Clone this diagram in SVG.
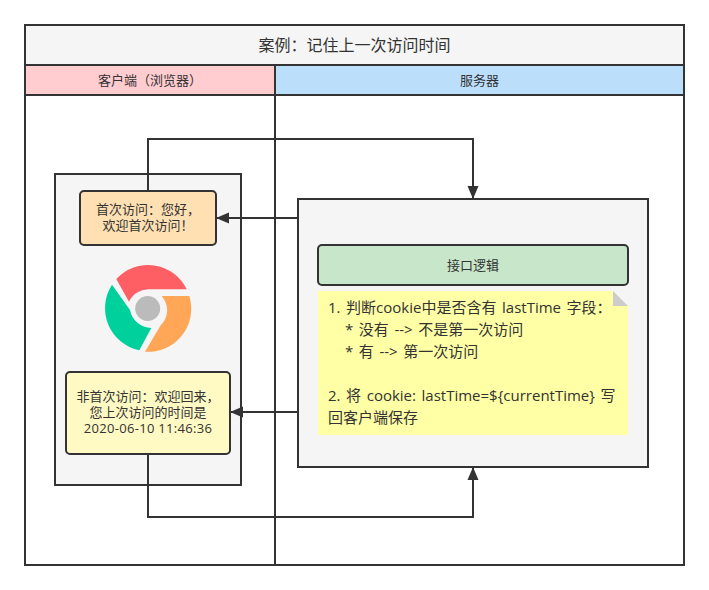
<svg xmlns="http://www.w3.org/2000/svg" width="709" height="590" viewBox="0 0 709 590">
<defs>
<style>
text{font-family:"Open Sans","Noto Sans CJK SC","Noto Sans",sans-serif;fill:#333;font-size:13px;text-anchor:middle;text-spacing-trim:space-all}
.b{stroke:#333;stroke-width:2}
.c{fill:none;stroke:#333;stroke-width:2}
.n{font-size:15px;text-anchor:start;word-spacing:1.7px}
.t{font-size:16px}
.d{letter-spacing:.3px}
</style>
<marker id="a" markerUnits="userSpaceOnUse" markerWidth="14" markerHeight="14" refX="13" refY="6" orient="auto"><path d="M0 .5L13 6L0 11.500Z" fill="#333"/></marker>
</defs>
<rect width="709" height="590" fill="#fff"/>
<g id="frame">
<rect x="25" y="25" width="659" height="540" fill="#fff" class="b"/>
<rect x="25" y="25" width="659" height="40" fill="#f5f5f5" class="b"/>
<text class="t" x="354.500" y="51">案例：记住上一次访问时间</text>
</g>
<g id="lane-client">
<rect x="25" y="65" width="250" height="30" fill="#ffccd0" class="b"/>
<path d="M275 95V565" class="c"/>
<text x="150" y="85">客户端（浏览器）</text>
</g>
<g id="lane-server">
<rect x="275" y="65" width="409" height="30" fill="#bbdefb" class="b"/>
<text x="479.500" y="85">服务器</text>
</g>
<g id="client-box"><rect x="55" y="174" width="186" height="311" fill="#f5f5f5" class="b"/></g>
<g id="server-box"><rect x="298" y="199" width="350" height="268" fill="#f5f5f5" class="b"/></g>
<g id="connectors">
<path d="M148 191V139H473V199" class="c" marker-end="url(#a)"/>
<path d="M298 218H216" class="c" marker-end="url(#a)"/>
<path d="M298 412H230" class="c" marker-end="url(#a)"/>
<path d="M148 454V517H473V467" class="c" marker-end="url(#a)"/>
</g>
<g id="first-visit">
<rect x="80" y="191" width="136" height="54" rx="4" fill="#ffe0b2" class="b"/>
<text x="148" y="214">首次访问：您好，</text>
<text x="148" y="230">欢迎首次访问！</text>
</g>
<g id="chrome">
<path d="M116.300 279A43 43 0 0 1 186.700 289.300H150A22 22 0 0 0 129 301.700Z" fill="#fd5f65"/>
<path d="M112 284.700A43 43 0 0 0 139.300 350.300L151.300 328A22 22 0 0 1 130 310Z" fill="#00d09c"/>
<path d="M161.700 296H189.300A43 43 0 0 1 145 351.700L160.700 325.300A21 21 0 0 0 161.700 296Z" fill="#ffa657"/>
<circle cx="147.700" cy="308.500" r="12.500" fill="#bbb"/>
</g>
<g id="repeat-visit">
<rect x="66" y="372" width="164" height="82" rx="4" fill="#fff9c4" class="b"/>
<text x="148" y="401">非首次访问：欢迎回来，</text>
<text x="148" y="417">您上次访问的时间是</text>
<text class="d" x="148" y="433">2020-06-10 11:46:36</text>
</g>
<g id="logic">
<rect x="318" y="245" width="310" height="40" rx="4" fill="#c8e6c9" class="b"/>
<text x="473" y="270">接口逻辑</text>
</g>
<g id="note">
<path d="M318 291H613L628 306V435H318Z" fill="#ffffa6"/>
<path d="M613 291L628 306H613Z" fill="#ccc"/>
<text class="n" x="328" y="313">1. 判断cookie中是否含有 lastTime 字段：</text>
<text class="n" x="345" y="335">* 没有 --&gt; 不是第一次访问</text>
<text class="n" x="345" y="357">* 有 --&gt; 第一次访问</text>
<text class="n" x="328" y="401">2. 将 cookie: lastTime=${currentTime} 写</text>
<text class="n" x="328" y="423">回客户端保存</text>
</g>
</svg>
